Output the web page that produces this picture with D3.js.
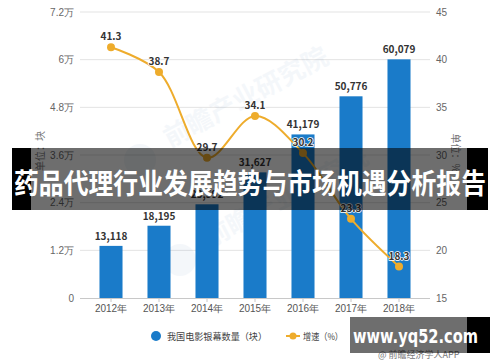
<!DOCTYPE html>
<html>
<head>
<meta charset="utf-8">
<script src="https://cdn.jsdelivr.net/npm/d3@7"></script>
<style>
  html, body { margin: 0; padding: 0; background: #fff; }
  svg { display: block; font-family: "Noto Sans CJK SC", "Noto Sans", sans-serif; }
</style>
</head>
<body>
<svg id="chart" width="500" height="362"></svg>
<script>
const years = ['2012年', '2013年', '2014年', '2015年', '2016年', '2017年', '2018年'];
const screens = [13118, 18195, 23592, 31627, 41179, 50776, 60079];
const growth = [41.3, 38.7, 29.7, 34.1, 30.2, 23.3, 18.3];
const leftTicks = [0, 12000, 24000, 36000, 48000, 60000, 72000];
const rightTicks = [15, 20, 25, 30, 35, 40, 45];

const dims = { width: 500, height: 362, left: 80, right: 430, top: 12, bottom: 298 };
const barColor = '#1a7bc9';
const lineColor = '#eeac2c';

const svg = d3.select('#chart');

// Scales
const x = d3.scaleBand()
  .domain(years)
  .range([87, 423])
  .paddingInner(0.52)
  .paddingOuter(0.26);
const yLeft = d3.scaleLinear().domain([0, 72000]).range([dims.bottom, dims.top]);
const yRight = d3.scaleLinear().domain([15, 45]).range([dims.bottom, dims.top]);

// Grid
svg.append('g')
  .selectAll('line')
  .data(leftTicks.slice(1))
  .join('line')
  .attr('x1', dims.left).attr('x2', dims.right)
  .attr('y1', d => yLeft(d)).attr('y2', d => yLeft(d))
  .attr('stroke', '#e3e3e3').attr('stroke-width', 1);

// Watermark (faint)
const wm = svg.append('g').attr('opacity', 0.045).attr('fill', '#1a5fa8');
[[250, 105], [290, 205]].forEach(([cx, cy]) => {
  wm.append('text')
    .attr('transform', `translate(${cx},${cy}) rotate(-28)`)
    .attr('text-anchor', 'middle')
    .attr('font-size', 26).attr('font-weight', 'bold')
    .text('前瞻产业研究院');
  wm.append('circle').attr('cx', cx - 110).attr('cy', cy + 55).attr('r', 16);
});

// Axes
const leftAxis = d3.axisLeft(yLeft)
  .tickValues(leftTicks)
  .tickSize(0).tickPadding(5)
  .tickFormat(d => d === 0 ? '0' : (d / 10000) + '万');
svg.append('g')
  .attr('transform', `translate(${dims.left - 1},0)`)
  .call(leftAxis)
  .call(g => g.select('.domain').remove())
  .call(g => g.selectAll('text').attr('fill', '#666').attr('font-size', 10));

const rightAxis = d3.axisRight(yRight)
  .tickValues(rightTicks)
  .tickSize(0).tickPadding(6);
svg.append('g')
  .attr('transform', `translate(${dims.right},0)`)
  .call(rightAxis)
  .call(g => g.select('.domain').remove())
  .call(g => g.selectAll('text').attr('fill', '#666').attr('font-size', 10));

const bottomAxis = d3.axisBottom(x).tickSizeOuter(0).tickSize(4).tickPadding(3);
svg.append('g')
  .attr('transform', `translate(0,${dims.bottom})`)
  .call(bottomAxis)
  .call(g => g.select('.domain').attr('d', `M${dims.left},0.5H${dims.right}`).attr('stroke', '#c8c8c8'))
  .call(g => g.selectAll('.tick line').attr('stroke', '#c8c8c8'))
  .call(g => g.selectAll('text').attr('fill', '#555').attr('font-size', 10));

// Axis titles
svg.append('text')
  .attr('transform', 'translate(44,151) rotate(-90)')
  .attr('text-anchor', 'middle')
  .attr('font-size', 10).attr('fill', '#777')
  .text('单位：块');
svg.append('text')
  .attr('transform', 'translate(452,153) rotate(90)')
  .attr('text-anchor', 'middle')
  .attr('font-size', 10).attr('fill', '#777')
  .text('单位：%');

// Bars
svg.append('g')
  .selectAll('rect')
  .data(screens)
  .join('rect')
  .attr('x', (d, i) => x(years[i]))
  .attr('y', d => yLeft(d))
  .attr('width', x.bandwidth())
  .attr('height', d => dims.bottom - yLeft(d))
  .attr('fill', barColor);

svg.append('g')
  .selectAll('text')
  .data(screens)
  .join('text')
  .attr('x', (d, i) => x(years[i]) + x.bandwidth() / 2)
  .attr('y', d => yLeft(d) - 6)
  .attr('text-anchor', 'middle')
  .attr('font-size', 10).attr('font-weight', 'bold').attr('fill', '#333')
  .text(d => d3.format(',')(d));

// Line
const cx = (d, i) => x(years[i]) + x.bandwidth() / 2;
const line = d3.line()
  .x(cx)
  .y(d => yRight(d))
  .curve(d3.curveCatmullRom.alpha(0.5));

svg.append('path')
  .datum(growth)
  .attr('d', line)
  .attr('fill', 'none')
  .attr('stroke', lineColor)
  .attr('stroke-width', 2);

svg.append('g')
  .selectAll('circle')
  .data(growth)
  .join('circle')
  .attr('cx', cx)
  .attr('cy', d => yRight(d))
  .attr('r', 4)
  .attr('fill', lineColor);

svg.append('g')
  .selectAll('text')
  .data(growth)
  .join('text')
  .attr('x', cx)
  .attr('y', d => yRight(d) - 7)
  .attr('text-anchor', 'middle')
  .attr('font-size', 10).attr('font-weight', 'bold').attr('fill', '#333')
  .attr('stroke', '#fff').attr('stroke-width', 1.5).attr('paint-order', 'stroke')
  .text(d => d.toFixed(1));

// Legend
const legend = svg.append('g').attr('font-size', 9.5).attr('fill', '#444');
legend.append('circle').attr('cx', 156).attr('cy', 336).attr('r', 5).attr('fill', barColor);
legend.append('text').attr('x', 167).attr('y', 340)
  .attr('textLength', 100).attr('lengthAdjust', 'spacingAndGlyphs')
  .text('我国电影银幕数量（块）');
legend.append('line').attr('x1', 286).attr('x2', 300).attr('y1', 336).attr('y2', 336)
  .attr('stroke', lineColor).attr('stroke-width', 2);
legend.append('circle').attr('cx', 293).attr('cy', 336).attr('r', 3.5).attr('fill', lineColor);
legend.append('text').attr('x', 303).attr('y', 340)
  .attr('textLength', 40).attr('lengthAdjust', 'spacingAndGlyphs')
  .text('增速（%）');

// Source
svg.append('text')
  .attr('x', 378).attr('y', 358)
  .attr('font-size', 9).attr('fill', '#777')
  .text('@ 前瞻经济学人APP');

// Title band overlay
const band = svg.append('g');
band.append('rect').attr('x', 12).attr('y', 148).attr('width', 19).attr('height', 62).attr('fill', '#000');
band.append('rect').attr('x', 31).attr('y', 148).attr('width', 436).attr('height', 62).attr('fill', 'rgba(0,0,0,0.57)');
band.append('rect').attr('x', 467).attr('y', 148).attr('width', 21).attr('height', 62).attr('fill', '#000');
band.append('text')
  .attr('x', 250).attr('y', 194)
  .attr('text-anchor', 'middle')
  .attr('font-size', 28).attr('font-weight', 'bold').attr('fill', '#fff')
  .attr('textLength', 472).attr('lengthAdjust', 'spacingAndGlyphs')
  .text('药品代理行业发展趋势与市场机遇分析报告');

// Site box overlay
const site = svg.append('g');
site.append('rect').attr('x', 350).attr('y', 317).attr('width', 117).attr('height', 36).attr('fill', 'rgba(0,0,0,0.57)');
site.append('rect').attr('x', 467).attr('y', 317).attr('width', 23).attr('height', 36).attr('fill', '#000');
site.append('text')
  .attr('x', 353).attr('y', 343)
  .attr('font-size', 19).attr('font-weight', 'bold').attr('fill', '#fff')
  .attr('font-family', 'Verdana, "DejaVu Sans", sans-serif')
  .attr('textLength', 125).attr('lengthAdjust', 'spacingAndGlyphs')
  .text('www.yq52.com');
</script>
</body>
</html>
